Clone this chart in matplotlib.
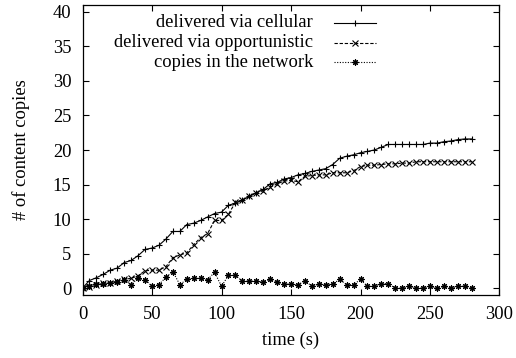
import numpy as np
import matplotlib
matplotlib.use("Agg")
import matplotlib.pyplot as plt
from matplotlib.lines import Line2D

# time samples (s)
time_s = list(range(0, 285, 5))

# content delivered through the cellular channel
cellular = [0, 1.1, 1.5, 2.0, 2.6, 2.9, 3.7, 4.0, 4.7, 5.6, 5.8, 6.2, 7.1, 8.2, 8.2,
            9.2, 9.4, 9.8, 10.3, 10.8, 11.0, 12.0, 12.3, 12.7, 13.3, 13.8, 14.3,
            15.1, 15.3, 15.8, 16.0, 16.4,
            16.6, 16.9, 17.1, 17.3, 17.9, 18.8, 19.1, 19.3, 19.6, 19.8, 20.0, 20.4,
            20.8, 20.8, 20.8, 20.8, 20.8, 20.8, 21.0, 21.0, 21.2, 21.3, 21.5, 21.6, 21.6]

# content delivered opportunistically
opportunistic = [0, 0.1, 0.4, 0.7, 0.8, 1.0, 1.3, 1.4, 1.8, 2.5, 2.6, 2.6, 3.1, 4.4, 4.8,
                 5.1, 6.3, 7.3, 7.9, 9.8, 9.8, 10.7, 12.4, 12.8, 13.3, 13.8, 14.1,
                 14.6, 15.1, 15.5, 15.6, 15.4,
                 16.2, 16.3, 16.4, 16.4, 16.7, 16.7, 16.7, 17.0, 17.6, 17.8, 17.8, 17.9,
                 18.0, 18.0, 18.1, 18.1, 18.3, 18.3, 18.3, 18.3, 18.3, 18.3, 18.3, 18.3, 18.3]

# copies currently circulating in the network
network = [0, 0.26, 0.65, 0.65, 0.75, 0.84, 1.23, 0.5, 1.47, 1.23, 0.26, 0.5, 1.57, 2.4,
           0.5, 1.25, 1.4, 1.4, 1.2, 2.3, 0.26, 1.85, 1.85, 1.0, 1.0, 1.0, 0.85, 1.3,
           0.85, 0.6, 0.6, 0.45,
           1.1, 0.26, 0.6, 0.5, 0.6, 1.25, 0.5, 0.5, 1.25, 0.26, 0.26, 0.65, 0.65,
           0, 0, 0.26, 0, 0, 0.26, 0, 0.26, 0, 0.26, 0.26, 0]

labels = ["delivered via cellular", "delivered via opportunistic", "copies in the network"]
x_ticks = [0, 50, 100, 150, 200, 250, 300]
y_ticks = [0, 5, 10, 15, 20, 25, 30, 35, 40]

plt.rcParams["font.family"] = ["Liberation Serif", "DejaVu Serif"]
plt.rcParams["font.size"] = 13.3

W, H = 516, 358
fig = plt.figure(figsize=(W / 100, H / 100), dpi=100)
ax = fig.add_axes([82.5 / W, 1 - 295 / H, 417 / W, 290 / H])

lw = 0.8
styles = [
    dict(linestyle="-", marker="+"),
    dict(linestyle=(0, (3.0, 1.6)), marker="x"),
    dict(linestyle=(0, (1.0, 1.4)), marker=(8, 2, 0)),
]
series = [cellular, opportunistic, network]

for vals, st in zip(series, styles):
    ax.plot(time_s, vals, color="black", lw=lw, markersize=4.5,
            markeredgewidth=0.8, **st)

ax.set_xlim(0, 300)
ax.set_ylim(-1, 41)
ax.set_xticks(x_ticks)
ax.set_yticks(y_ticks)
ax.tick_params(direction="in", length=4, width=0.8, top=True, right=True,
               labelsize=13.3, pad=8)
for sp in ax.spines.values():
    sp.set_linewidth(0.9)

ax.set_xlabel("time (s)", labelpad=6)
ax.set_ylabel("# of content copies", labelpad=16)

# gnuplot-style key: right-aligned labels followed by a line sample
rows_y = [0.938, 0.870, 0.803]
for lab, st, yy in zip(labels, styles, rows_y):
    ax.text(0.553, yy, lab, transform=ax.transAxes, ha="right", va="center",
            fontsize=13.3)
    ax.add_line(Line2D([0.602, 0.704], [yy, yy], transform=ax.transAxes,
                       color="black", lw=lw, linestyle=st["linestyle"]))
    ax.add_line(Line2D([0.6535], [yy], transform=ax.transAxes, color="black",
                       marker=st["marker"], markersize=4.5, markeredgewidth=0.8,
                       linestyle="none"))

fig.savefig("out.png", dpi=100)
